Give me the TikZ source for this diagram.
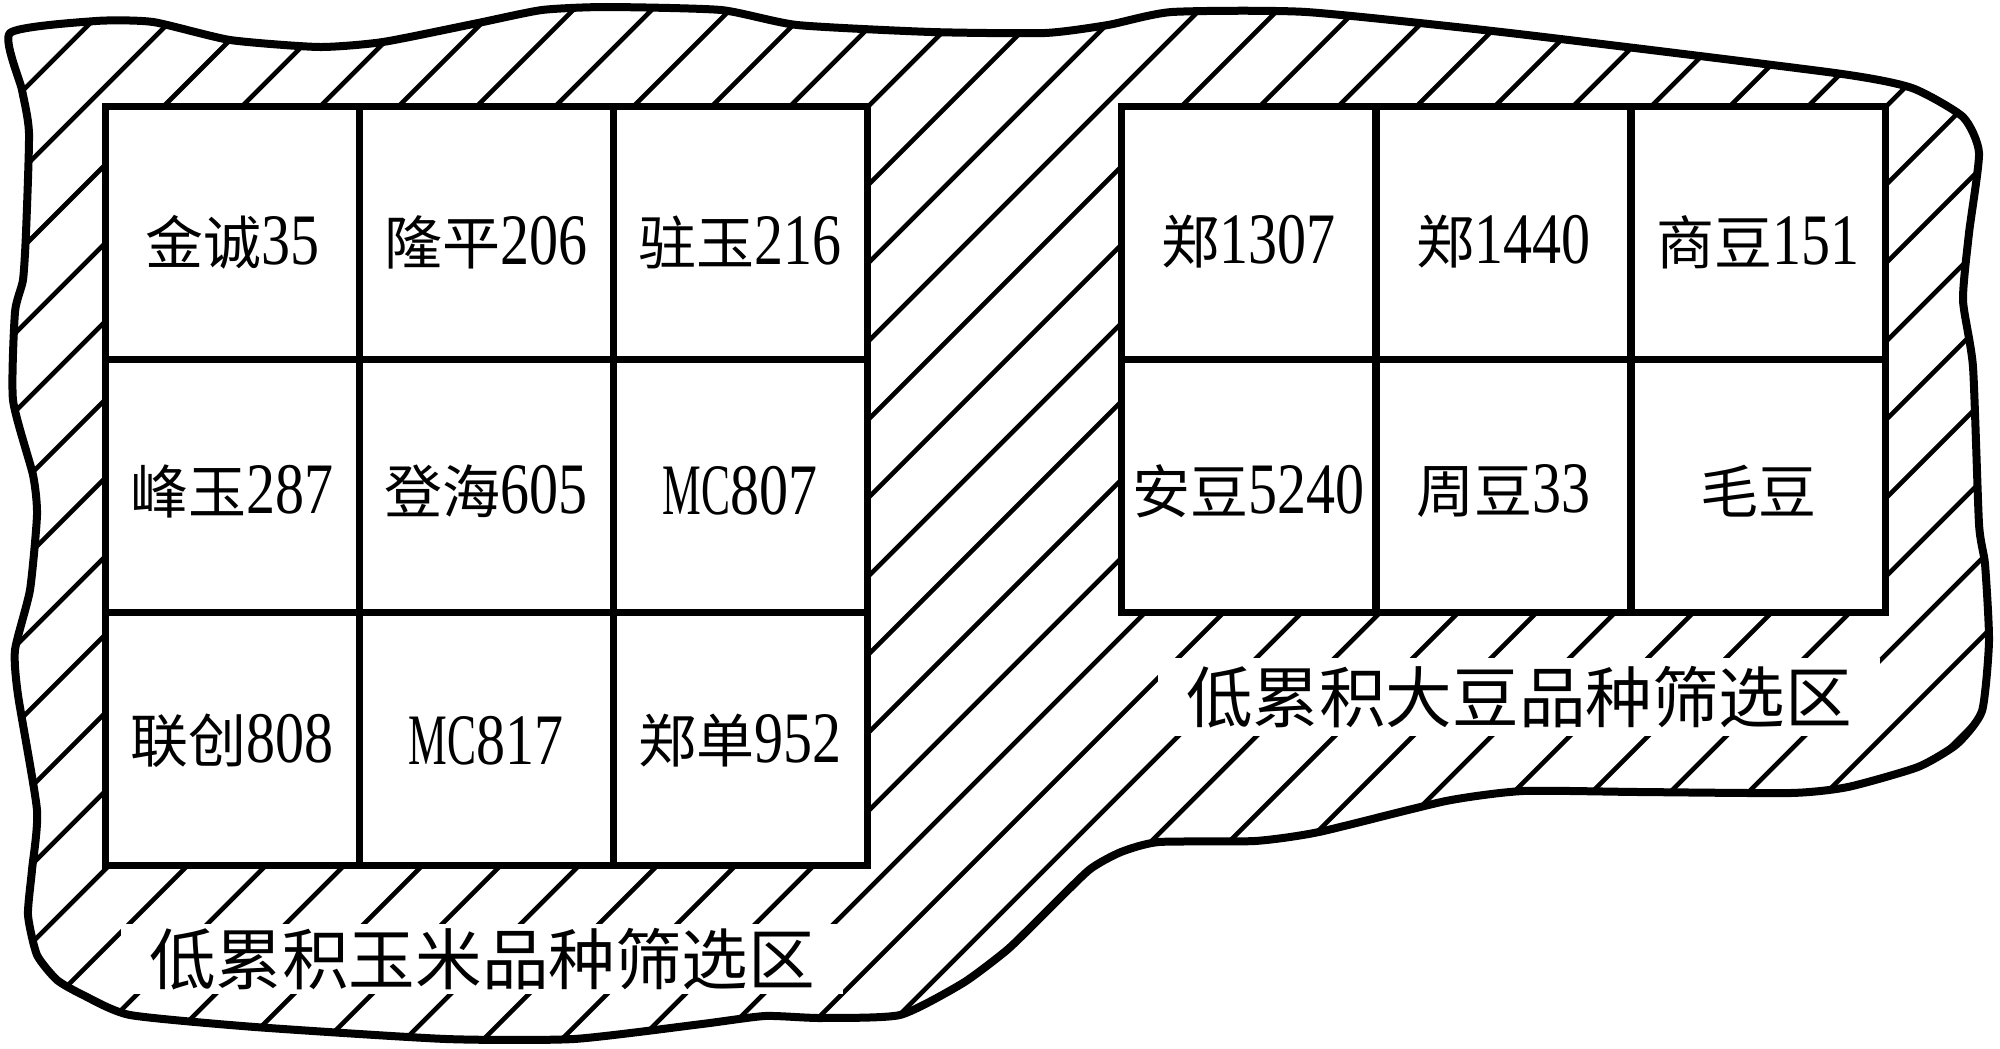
\documentclass[tikz,border=0pt]{standalone}
\usepackage{fontspec}
\newfontfamily\cjk{Noto Sans CJK SC}
\newfontfamily\numf[FakeStretch=0.8,Scale=1.25]{Liberation Serif}
\newfontfamily\mcf[FakeStretch=0.6,Scale=1.25]{Liberation Serif}
\newcommand{\nm}[1]{{\numf #1}}
\newcommand{\mc}{{\mcf MC}}
\begin{document}
\begin{tikzpicture}[x=1pt,y=-1pt,
  hatchline/.style={line width=4.6pt},
  outl/.style={line width=8pt, line join=round},
  cellbox/.style={draw, line width=7pt, fill=white, minimum width=254pt, minimum height=253pt, inner sep=0pt},
  celltext/.style={font=\fontsize{58pt}{60pt}\selectfont\cjk, inner sep=0pt},
  zonelabel/.style={font=\fontsize{66.6pt}{70pt}\selectfont\cjk, fill=white, inner xsep=28pt, inner ysep=4pt}]
\useasboundingbox (0,0) rectangle (2000,1049);

% hatching inside the outline
\begin{scope}
\clip plot[smooth cycle, tension=0.35] coordinates {(10,33) (96,21) (153,22) (230,40) (319,47) (383,42) (478,23) (542,10) (606,7) (721,10) (797,25) (931,32) (1045,33) (1108,25) (1172,12) (1306,12) (1510,33) (1835,73) (1912,88) (1963,117) (1979,153) (1969,233) (1963,300) (1973,367) (1979,524) (1985,564) (1989,641) (1982,711) (1957,744) (1918,767) (1848,787) (1791,793) (1638,792) (1523,791) (1446,801) (1319,832) (1255,841) (1159,842) (1121,852) (1089,870) (1040,918) (1007,950) (963,983) (900,1015) (820,1018) (765,1016) (702,1024) (574,1039) (446,1039) (255,1027) (130,1015) (83,995) (57,980) (37,955) (28,915) (32,870) (37,810) (18,695) (15,650) (30,590) (37,515) (33,475) (13,400) (15,312) (23,280) (26,233) (29,133) (22,90)};
\foreach \k in {-15,...,26} {
  \draw[hatchline] ({1053+78.3*\k-1200},1200) -- ({1053+78.3*\k+100},-100);
}
\end{scope}

% corn grid
\node[cellbox] (c11) at (232,232.5) {};
\node[cellbox] (c12) at (486,232.5) {};
\node[cellbox] (c13) at (740,232.5) {};
\node[cellbox] (c21) at (232,485.5) {};
\node[cellbox] (c22) at (486,485.5) {};
\node[cellbox] (c23) at (740,485.5) {};
\node[cellbox] (c31) at (232,738.5) {};
\node[cellbox] (c32) at (486,738.5) {};
\node[cellbox] (c33) at (740,738.5) {};

\node[celltext] (t11) at (232,242) {金诚\nm{35}};
\node[celltext] (t12) at (486,242) {隆平\nm{206}};
\node[celltext] (t13) at (740,242) {驻玉\nm{216}};
\node[celltext] (t21) at (232,491) {峰玉\nm{287}};
\node[celltext] (t22) at (486,491) {登海\nm{605}};
\node[celltext] (t23) at (740,491) {\mc\nm{807}};
\node[celltext] (t31) at (232,741) {联创\nm{808}};
\node[celltext] (t32) at (486,741) {\mc\nm{817}};
\node[celltext] (t33) at (740,741) {郑单\nm{952}};

% soybean grid
\node[cellbox] (s11) at (1248,232.5) {};
\node[cellbox] (s12) at (1503,232.5) {};
\node[cellbox] (s13) at (1758,232.5) {};
\node[cellbox] (s21) at (1248,485.5) {};
\node[cellbox] (s22) at (1503,485.5) {};
\node[cellbox] (s23) at (1758,485.5) {};

\node[celltext] (u11) at (1248,242) {郑\nm{1307}};
\node[celltext] (u12) at (1503,242) {郑\nm{1440}};
\node[celltext] (u13) at (1758,242) {商豆\nm{151}};
\node[celltext] (u21) at (1248,491) {安豆\nm{5240}};
\node[celltext] (u22) at (1503,491) {周豆\nm{33}};
\node[celltext] (u23) at (1758,491) {毛豆};

% zone labels
\node[zonelabel] (lcorn) at (482,959) {低累积玉米品种筛选区};
\node[zonelabel, inner ysep=8pt] (lsoy) at (1519,697) {低累积大豆品种筛选区};

% outline
\draw[outl] plot[smooth cycle, tension=0.35] coordinates {(10,33) (96,21) (153,22) (230,40) (319,47) (383,42) (478,23) (542,10) (606,7) (721,10) (797,25) (931,32) (1045,33) (1108,25) (1172,12) (1306,12) (1510,33) (1835,73) (1912,88) (1963,117) (1979,153) (1969,233) (1963,300) (1973,367) (1979,524) (1985,564) (1989,641) (1982,711) (1957,744) (1918,767) (1848,787) (1791,793) (1638,792) (1523,791) (1446,801) (1319,832) (1255,841) (1159,842) (1121,852) (1089,870) (1040,918) (1007,950) (963,983) (900,1015) (820,1018) (765,1016) (702,1024) (574,1039) (446,1039) (255,1027) (130,1015) (83,995) (57,980) (37,955) (28,915) (32,870) (37,810) (18,695) (15,650) (30,590) (37,515) (33,475) (13,400) (15,312) (23,280) (26,233) (29,133) (22,90)};
\end{tikzpicture}
\end{document}
